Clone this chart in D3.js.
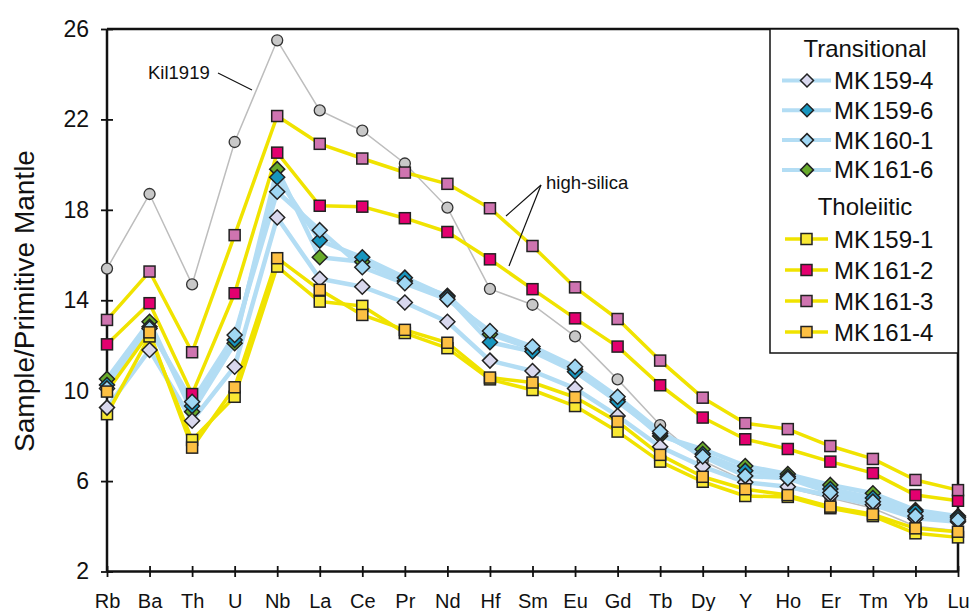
<!DOCTYPE html>
<html><head><meta charset="utf-8">
<script src="https://cdn.jsdelivr.net/npm/d3@7"></script>
<style>body{margin:0;background:#fff}svg{display:block;font-family:"Liberation Sans",Arial,Helvetica,sans-serif}</style>
</head><body><svg id="c" width="975" height="611"></svg>
<script>
const categories = ["Rb","Ba","Th","U","Nb","La","Ce","Pr","Nd","Hf","Sm","Eu","Gd","Tb","Dy","Y","Ho","Er","Tm","Yb","Lu"];
const yTicks = [2,6,10,14,18,22,26];
const kil1919 = [15.4,18.7,14.7,21.0,25.5,22.4,21.5,20.05,18.1,14.5,13.8,12.4,10.5,8.48,6.9,6.0,5.7,5.25,4.8,4.0,3.8];
const mk159_4 = [9.25,11.8,8.67,11.06,17.66,14.95,14.6,13.9,13.05,11.33,10.87,10.1,8.88,7.52,6.64,5.95,5.75,5.35,4.95,4.35,4.2];
const mk159_6 = [10.25,12.83,9.32,12.24,19.44,16.64,15.9,15.0,14.15,12.14,11.73,10.84,9.51,8.1,7.2,6.46,6.2,5.65,5.25,4.65,4.38];
const mk160_1 = [10.1,12.75,9.51,12.46,18.8,17.1,15.46,14.75,14.04,12.64,11.95,11.06,9.73,8.19,7.09,6.23,6.12,5.49,5.09,4.46,4.28];
const mk161_6 = [10.52,13.05,9.07,12.1,19.8,15.9,15.7,14.85,14.2,12.5,11.85,10.95,9.6,8.0,7.41,6.67,6.31,5.83,5.46,4.72,4.45];
const mk159_1 = [8.96,12.4,7.82,9.73,15.49,13.94,13.75,12.55,11.88,10.5,10.03,9.32,8.19,6.86,5.97,5.34,5.3,4.8,4.45,3.69,3.51];
const mk161_2 = [12.05,13.87,9.85,14.31,20.53,18.18,18.14,17.63,17.02,15.81,14.49,13.2,11.95,10.24,8.81,7.85,7.42,6.86,6.35,5.38,5.13];
const mk161_3 = [13.13,15.27,11.7,16.88,22.15,20.92,20.27,19.65,19.15,18.07,16.4,14.57,13.17,11.33,9.69,8.56,8.3,7.55,6.98,6.05,5.6];
const mk161_4 = [9.96,12.58,7.48,10.15,15.86,14.46,13.35,12.69,12.12,10.58,10.36,9.71,8.63,7.16,6.19,5.64,5.38,4.87,4.53,3.91,3.76];

const transitional = [
  {name:"MK159-4", values:mk159_4, fill:"#d9d8ee"},
  {name:"MK159-6", values:mk159_6, fill:"#1896bf"},
  {name:"MK160-1", values:mk160_1, fill:"#9fd7f4"},
  {name:"MK161-6", values:mk161_6, fill:"#68ab2b"}
];
const tholeiitic = [
  {name:"MK159-1", values:mk159_1, fill:"#f9e833"},
  {name:"MK161-2", values:mk161_2, fill:"#e3006f"},
  {name:"MK161-3", values:mk161_3, fill:"#cf74b0"},
  {name:"MK161-4", values:mk161_4, fill:"#fdc043"}
];
const blueLine = "#b3ddf4", yellowLine = "#f0e300";

const svg = d3.select("#c");
const x = d3.scalePoint().domain(categories).range([107, 958]);
const y = d3.scaleLinear().domain([2, 26]).range([571.5, 29]);

// frame
svg.append("line").attr("x1",107).attr("x2",958).attr("y1",y(26)).attr("y2",y(26)).attr("stroke","#111").attr("stroke-width",2.5);
svg.append("line").attr("x1",958).attr("x2",958).attr("y1",y(26)).attr("y2",y(2)).attr("stroke","#111").attr("stroke-width",2.5);

// axes
const yAxis = svg.append("g").attr("transform","translate(107,0)")
  .call(d3.axisLeft(y).tickValues(yTicks).tickSize(6).tickPadding(12).tickFormat(d3.format("d")));
yAxis.selectAll(".tick line").attr("x1",6).attr("x2",-6);
const xAxis = svg.append("g").attr("transform",`translate(0,${y(2)})`)
  .call(d3.axisBottom(x).tickSize(6).tickPadding(16));
xAxis.selectAll(".tick line").attr("y1",-5.5).attr("y2",5.5);
[yAxis, xAxis].forEach(g => {
  g.select(".domain").attr("stroke","#111").attr("stroke-width",2.5);
  g.selectAll(".tick line").attr("stroke","#111").attr("stroke-width",1.8);
  g.selectAll("text").attr("fill","#111").attr("font-family","'Liberation Sans',Arial,sans-serif");
});
yAxis.selectAll("text").attr("font-size",23);
xAxis.selectAll("text").attr("font-size",20);
xAxis.select(".domain").attr("d",`M107,0H958`);
yAxis.select(".domain").attr("d",`M0,${y(2)}V${y(26)}`);

svg.append("text").attr("transform","translate(34,301) rotate(-90)").attr("text-anchor","middle")
  .attr("font-size",28).attr("fill","#111").text("Sample/Primitive Mantle");

const line = d3.line().x((d,i)=>x(categories[i])).y(d=>y(d));

// lines
svg.append("path").attr("d",line(kil1919)).attr("fill","none").attr("stroke","#bdbdbd").attr("stroke-width",1.5);
transitional.forEach(s => svg.append("path").attr("d",line(s.values)).attr("fill","none").attr("stroke",blueLine).attr("stroke-width",4.5).attr("stroke-linejoin","round"));
tholeiitic.forEach(s => svg.append("path").attr("d",line(s.values)).attr("fill","none").attr("stroke",yellowLine).attr("stroke-width",3.5).attr("stroke-linejoin","round"));

// markers
const sq = 11, dm = 7.5;
function drawSquare(g, cx, cy, fill){
  g.append("rect").attr("x",cx-sq/2).attr("y",cy-sq/2).attr("width",sq).attr("height",sq)
   .attr("fill",fill).attr("stroke","#222").attr("stroke-width",1.5);
}
function drawDiamond(g, cx, cy, fill){
  g.append("path").attr("d",`M${cx},${cy-dm}L${cx+dm},${cy}L${cx},${cy+dm}L${cx-dm},${cy}Z`)
   .attr("fill",fill).attr("stroke","#222").attr("stroke-width",1.5);
}
const mk = svg.append("g");
kil1919.forEach((v,i)=> mk.append("circle").attr("cx",x(categories[i])).attr("cy",y(v)).attr("r",5.5)
  .attr("fill","#c8c8c8").attr("stroke","#333").attr("stroke-width",1.3));
const order = [
  [tholeiitic[0],"s"],[tholeiitic[1],"s"],[tholeiitic[2],"s"],
  [transitional[3],"d"],[transitional[1],"d"],[transitional[0],"d"],[transitional[2],"d"],
  [tholeiitic[3],"s"]
];
order.forEach(([s,t]) => s.values.forEach((v,i)=>{
  const cx = x(categories[i]), cy = y(v);
  if (t==="s") drawSquare(mk,cx,cy,s.fill); else drawDiamond(mk,cx,cy,s.fill);
}));

// annotations
svg.append("text").attr("x",148).attr("y",79).attr("font-size",18.5).attr("fill","#111").text("Kil1919");
svg.append("line").attr("x1",218).attr("y1",73).attr("x2",252).attr("y2",90).attr("stroke","#111").attr("stroke-width",1.2);
svg.append("text").attr("x",546).attr("y",189).attr("font-size",18.5).attr("fill","#111").text("high-silica");
svg.append("line").attr("x1",541).attr("y1",185).attr("x2",506).attr("y2",216).attr("stroke","#111").attr("stroke-width",1.2);
svg.append("line").attr("x1",541).attr("y1",185).attr("x2",509).attr("y2",266).attr("stroke","#111").attr("stroke-width",1.2);

// legend
const lg = svg.append("g");
lg.append("rect").attr("x",770).attr("y",29).attr("width",188).attr("height",324).attr("fill","#fff").attr("stroke","#111").attr("stroke-width",1.5);
lg.append("text").attr("x",865).attr("y",57).attr("text-anchor","middle").attr("font-size",24).attr("fill","#111").text("Transitional");
lg.append("text").attr("x",865).attr("y",215).attr("text-anchor","middle").attr("font-size",24).attr("fill","#111").text("Tholeiitic");
const legendRows = [
  ...transitional.map((s,i)=>({s, t:"d", cy:80.5+i*29.8})),
  ...tholeiitic.map((s,i)=>({s, t:"s", cy:239+i*31}))
];
legendRows.forEach(({s,t,cy})=>{
  lg.append("line").attr("x1",t==="d"?782:785).attr("x2",t==="d"?831:828).attr("y1",cy).attr("y2",cy)
    .attr("stroke",t==="d"?blueLine:yellowLine).attr("stroke-width",t==="d"?4:3.5);
  if (t==="s") { lg.append("rect").attr("x",801).attr("y",cy-5.5).attr("width",11).attr("height",11).attr("fill",s.fill).attr("stroke","#222").attr("stroke-width",1.5); }
  else { lg.append("path").attr("d",`M807,${cy-6.5}L813.5,${cy}L807,${cy+6.5}L800.5,${cy}Z`).attr("fill",s.fill).attr("stroke","#222").attr("stroke-width",1.5); }
  const tx = lg.append("text").attr("x",834).attr("y",cy+8.5).attr("font-size",24).attr("fill","#111");
  tx.append("tspan").text(s.name.slice(0,2));
  tx.append("tspan").attr("dx",2).text(s.name.slice(2));
});
</script></body></html>
